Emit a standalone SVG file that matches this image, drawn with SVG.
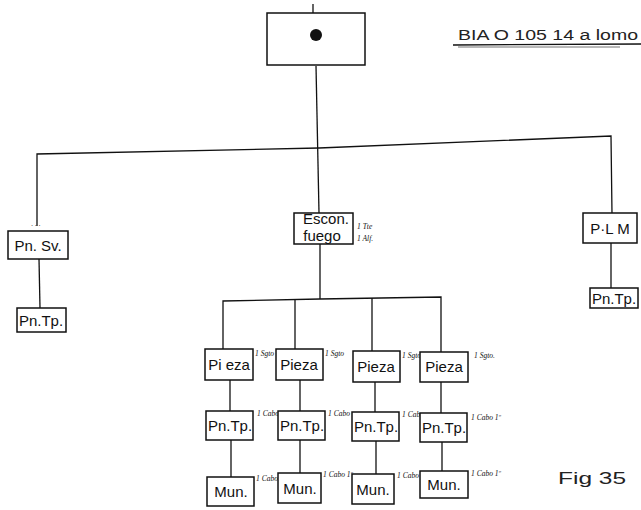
<svg xmlns="http://www.w3.org/2000/svg" width="641" height="510" viewBox="0 0 641 510">
<style>
.box{fill:#fff;stroke:#111;stroke-width:1.5}
.ln{fill:none;stroke:#111;stroke-width:1.3}
.t{font-family:"Liberation Sans",Arial,sans-serif;font-size:15px;fill:#111;text-anchor:middle}
.n{font-family:"Liberation Serif",serif;font-style:italic;font-size:7.5px;fill:#111}
.cap{font-family:"Liberation Sans",Arial,sans-serif;fill:#222}
</style>
<rect width="641" height="510" fill="#fff"/>
<g id="title">
<text class="cap" x="458" y="40" font-size="14" textLength="180" lengthAdjust="spacingAndGlyphs">BIA O 105 14  a lomo</text>
<line class="ln" x1="453" y1="45" x2="641" y2="44"/>
<line x1="458" y1="47" x2="620" y2="47" stroke="#111" stroke-width="0.6"/>
</g>
<g id="connectors">
<line class="ln" x1="313" y1="4" x2="313" y2="13"/>
<line class="ln" x1="316" y1="66" x2="319" y2="213"/>
<polyline class="ln" points="37,226 37,154 319,148 611,136 612,214"/>
<line class="ln" x1="39" y1="259" x2="40" y2="308"/>
<line class="ln" x1="611" y1="243" x2="611" y2="288"/>
<line class="ln" x1="320" y1="244" x2="320" y2="299"/>
<polyline class="ln" points="223,349 223,301 320,299 441,297 441,352"/>
<line class="ln" x1="295" y1="300" x2="295" y2="349"/>
<line class="ln" x1="372" y1="298" x2="372" y2="351"/>
<line class="ln" x1="230" y1="380" x2="230" y2="411"/>
<line class="ln" x1="300" y1="380" x2="300" y2="411"/>
<line class="ln" x1="375" y1="382" x2="375" y2="412"/>
<line class="ln" x1="441" y1="382" x2="441" y2="413"/>
<line class="ln" x1="231" y1="440" x2="231" y2="477"/>
<line class="ln" x1="300" y1="440" x2="300" y2="473"/>
<line class="ln" x1="376" y1="441" x2="376" y2="474"/>
<line class="ln" x1="442" y1="442" x2="442" y2="471"/>
</g>
<g id="root">
<rect class="box" x="267" y="13" width="98" height="52"/>
<circle cx="316" cy="35" r="6" fill="#111"/>
</g>
<g id="pnsv">
<text class="n" x="31" y="228">· · ·</text>
<rect class="box" x="8" y="231" width="60" height="28"/>
<text class="t" x="38" y="251">Pn. Sv.</text>
</g>
<g id="pntp-left">
<rect class="box" x="17" y="308" width="49" height="24"/>
<text class="t" x="41" y="326" font-size="14">Pn.Tp.</text>
</g>
<g id="escon">
<rect class="box" x="294" y="213" width="59" height="31"/>
<text class="t" x="326" y="224" font-size="11">Escon.</text>
<text class="t" x="322" y="241" font-size="11">fuego</text>
<text class="n" x="357" y="229">1 Tte</text>
<text class="n" x="357" y="241">1 Alf.</text>
</g>
<g id="plm">
<rect class="box" x="583" y="213" width="54" height="30"/>
<text class="t" x="610" y="234">P·L M</text>
</g>
<g id="pntp-right">
<rect class="box" x="590" y="288" width="48" height="20"/>
<text class="t" x="614" y="304" font-size="14">Pn.Tp.</text>
</g>
<g id="pieza1">
<rect class="box" x="205" y="349" width="48" height="31"/>
<text class="t" x="229" y="370">Pi eza</text>
<text class="n" x="255" y="356">1 Sgto</text>
</g>
<g id="pieza2">
<rect class="box" x="276" y="349" width="47" height="31"/>
<text class="t" x="299" y="370">Pieza</text>
<text class="n" x="325" y="356">1 Sgto</text>
</g>
<g id="pieza3">
<rect class="box" x="353" y="351" width="47" height="31"/>
<text class="t" x="376" y="372">Pieza</text>
<text class="n" x="402" y="358">1 Sgto</text>
</g>
<g id="pieza4">
<rect class="box" x="420" y="352" width="48" height="30"/>
<text class="t" x="444" y="372">Pieza</text>
<text class="n" x="474" y="358" font-size="8">1 Sgto.</text>
</g>
<g id="pntp1">
<rect class="box" x="206" y="411" width="47" height="29"/>
<text class="t" x="230" y="431">Pn.Tp.</text>
<text class="n" x="257" y="416">1 Cabo</text>
</g>
<g id="pntp2">
<rect class="box" x="278" y="411" width="47" height="29"/>
<text class="t" x="302" y="431">Pn.Tp.</text>
<text class="n" x="328" y="416">1 Cabo</text>
</g>
<g id="pntp3">
<rect class="box" x="352" y="412" width="47" height="29"/>
<text class="t" x="376" y="432">Pn.Tp.</text>
<text class="n" x="402" y="417">1 Cabo</text>
</g>
<g id="pntp4">
<rect class="box" x="420" y="413" width="47" height="29"/>
<text class="t" x="444" y="433">Pn.Tp.</text>
<text class="n" x="471" y="420" font-size="8">1 Cabo 1º</text>
</g>
<g id="mun1">
<rect class="box" x="207" y="477" width="47" height="29"/>
<text class="t" x="231" y="497">Mun.</text>
<text class="n" x="256" y="481">1 Cabo</text>
</g>
<g id="mun2">
<rect class="box" x="278" y="473" width="43" height="30"/>
<text class="t" x="300" y="494">Mun.</text>
<text class="n" x="323" y="477">1 Cabo 1º</text>
</g>
<g id="mun3">
<rect class="box" x="352" y="474" width="42" height="30"/>
<text class="t" x="373" y="495">Mun.</text>
<text class="n" x="397" y="478">1 Cabo</text>
</g>
<g id="mun4">
<rect class="box" x="420" y="471" width="48" height="27"/>
<text class="t" x="444" y="490">Mun.</text>
<text class="n" x="471" y="476">1 Cabo 1º</text>
</g>
<g id="caption">
<text class="cap" x="558" y="484" font-size="17" textLength="68" lengthAdjust="spacingAndGlyphs">Fig  35</text>
</g>
</svg>
